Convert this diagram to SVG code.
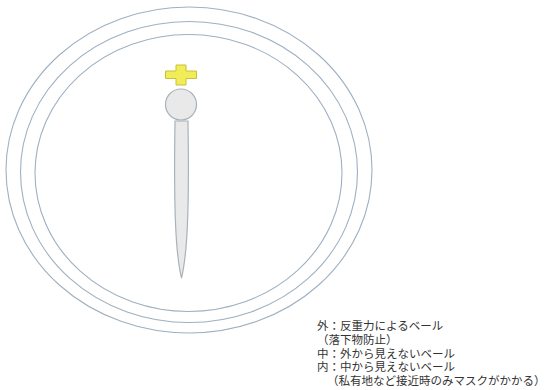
<svg xmlns="http://www.w3.org/2000/svg" width="545" height="390" viewBox="0 0 545 390">
<style>
.veil{fill:none;stroke:#9fb0c0;stroke-width:1.1}
.body{fill:#e9e9e9;stroke:#a9b2bb;stroke-width:1.2}
.cross{fill:#f2ec58;stroke:#c9c03a;stroke-width:1}
.t{font-family:"Liberation Sans","Noto Sans CJK JP",sans-serif;font-size:11.5px;fill:#333}
</style>
<rect width="545" height="390" fill="#fff"/>
<g id="outer-veil"><ellipse class="veil" cx="189" cy="170" rx="183" ry="163"/></g>
<g id="middle-veil"><ellipse class="veil" cx="189" cy="172" rx="168.5" ry="150.5"/></g>
<g id="inner-veil"><ellipse class="veil" cx="188.5" cy="173" rx="153.5" ry="138.5"/></g>
<g id="figure">
<path class="body" d="M175,121 C173.5,215 176,255 181.5,278 C187,255 189.5,215 188,121 Z"/>
<circle class="body" cx="181" cy="104.5" r="15.5"/>
</g>
<g id="cross">
<path class="cross" d="M176,65 H186 V71 H196.5 V78.5 H186 V85 H176 V78.5 H165.5 V71 H176 Z"/>
</g>
<g id="legend">
<text class="t" x="317" y="330">外：反重力によるベール</text>
<text class="t" x="317" y="343.5">（落下物防止）</text>
<text class="t" x="317" y="357.5">中：外から見えないベール</text>
<text class="t" x="317" y="371">内：中から見えないベール</text>
<text class="t" x="327" y="385">（私有地など接近時のみマスクがかかる）</text>
</g>
<g id="connectors"/>
</svg>
